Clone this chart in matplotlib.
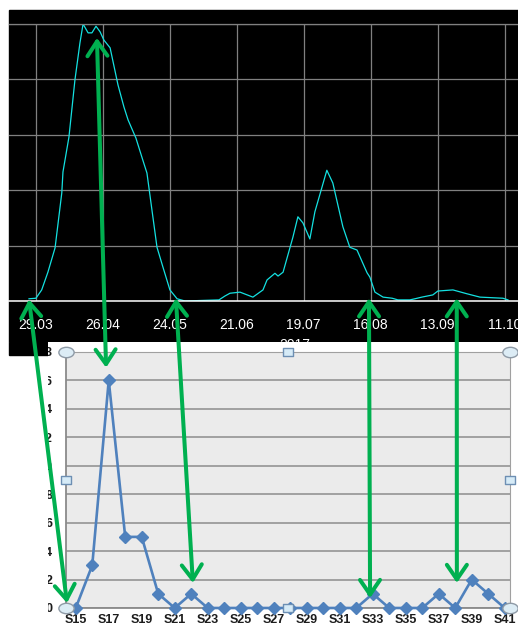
import numpy as np
import matplotlib
matplotlib.use("Agg")
import matplotlib.pyplot as plt
from matplotlib.patches import Rectangle, ConnectionPatch, ArrowStyle
from matplotlib.path import Path
from matplotlib.transforms import Affine2D

# top chart: daily curve, x in days after 29.03.2017
curve_days = [-2.8, 0.1, 2.5, 5.1, 8.1, 10.9, 11.4, 13.9, 16.4, 18.5, 19.8, 21.9, 23.5,
              25.2, 26.9, 28.5, 31.1, 34.4, 36.9, 38.6, 41.9, 44.8, 46.5, 50.7, 53.2,
              56.1, 59.1, 62.4, 76.6, 79.1, 81.2, 85.4, 90.8, 95.0, 96.7, 100.0, 101.3,
              103.4, 107.5, 109.6, 111.7, 114.6, 116.7, 121.7, 124.2, 128.4, 131.3,
              134.3, 138.5, 139.7, 141.8, 145.2, 149.0, 151.4, 156.4, 158.5, 161.4,
              166.0, 168.1, 174.4, 180.3, 185.7, 195.3, 197.4]
curve_vals = [0.04, 0.05, 0.2, 0.52, 0.96, 1.95, 2.33, 2.96, 3.99, 4.66, 5.0, 4.84, 4.84,
              4.96, 4.86, 4.71, 4.57, 3.9, 3.5, 3.27, 2.94, 2.54, 2.31, 0.97, 0.61,
              0.2, 0.04, 0.0, 0.02, 0.09, 0.14, 0.16, 0.07, 0.2, 0.38, 0.5, 0.45,
              0.52, 1.15, 1.52, 1.41, 1.12, 1.61, 2.36, 2.13, 1.34, 0.97,
              0.92, 0.51, 0.43, 0.16, 0.07, 0.05, 0.02, 0.02, 0.04, 0.07,
              0.11, 0.18, 0.2, 0.13, 0.07, 0.05, 0.02]
date_ticks = [0, 28, 56, 84, 112, 140, 168, 196]
date_labels = ["29.03", "26.04", "24.05", "21.06", "19.07", "16.08", "13.09", "11.10"]

# bottom chart: weekly counts
weeks = ["S%d" % w for w in range(15, 42)]
counts = [0, 3, 16, 5, 5, 1, 0, 1, 0, 0, 0, 0, 0, 0, 0, 0, 0, 0, 1, 0, 0, 0, 1, 0, 2, 1, 0]
count_ticks = list(range(0, 19, 2))

# green arrows: (day, value) on top chart  <->  (week index, count) on bottom chart
links = [(-2.8, 0.03, -0.53, 0.35),
         (25.6, 4.75, 1.84, 16.9),
         (58.6, 0.05, 7.1, 1.76),
         (139.3, 0.05, 17.84, 0.7),
         (176.0, 0.05, 23.1, 1.76)]

W, H = 518, 625
fig = plt.figure(figsize=(W / 100, H / 100), dpi=100)
fig.patch.set_facecolor("white")


def box(x0, y0, x1, y1):
    return [x0 / W, 1 - y1 / H, (x1 - x0) / W, (y1 - y0) / H]


fig.add_artist(Rectangle((9 / W, 1 - 355 / H), 509 / W, 345 / H,
                         transform=fig.transFigure, color="black", zorder=-1))

# ---- top chart
ax = fig.add_axes(box(9, 24, 518, 301), zorder=1)
ax.set_facecolor("black")
ax.plot(curve_days, curve_vals, color="#14e1e1", lw=0.9, zorder=2)
ax.set_xlim(-11.16, 201.6)
ax.set_ylim(0, 5)
ax.set_xticks(date_ticks)
ax.set_xticklabels(date_labels, family="Liberation Sans", fontsize=10, color="white")
ax.set_yticks(range(0, 6))
ax.set_yticklabels([])
ax.tick_params(length=0, pad=12)
ax.grid(True, color="#808080", lw=0.9)
for s in ["left", "right"]:
    ax.spines[s].set_visible(False)
ax.spines["top"].set_color("#808080")
ax.spines["top"].set_linewidth(0.9)
ax.spines["bottom"].set_color("white")
ax.spines["bottom"].set_linewidth(1.1)
ax.spines["bottom"].set_zorder(3)
ax.text(0.562, -0.134, "2017", transform=ax.transAxes, ha="center", va="top",
        family="Liberation Sans", fontsize=10, color="white")

# ---- bottom chart (pasted screenshot of a spreadsheet chart)
frame = fig.add_axes(box(48, 342, 518, 625), zorder=2)
frame.set_facecolor("white")
frame.set_xticks([])
frame.set_yticks([])
for s in frame.spines.values():
    s.set_visible(False)

bx = fig.add_axes(box(66, 352, 510, 608), zorder=3)
bx.set_facecolor("#ebebeb")
idx = np.arange(len(weeks))
bx.plot(idx, counts, color="#4f81bd", lw=1.9, marker="D", ms=6.5, zorder=3, clip_on=False)
bx.set_xlim(-0.59, 26.32)
bx.set_ylim(0, 18)
bx.set_xticks(idx[::2])
bx.set_xticklabels(weeks[::2], family="Liberation Sans", fontsize=9, fontweight="bold",
                   color="#1c1c1c")
bx.set_yticks(count_ticks)
bx.set_yticklabels([str(v) for v in count_ticks], family="Liberation Sans", fontsize=9,
                   fontweight="bold", color="#1c1c1c")
bx.tick_params(axis="x", length=0, pad=4)
bx.tick_params(axis="y", length=0, pad=10)
bx.grid(True, axis="y", color="#8c8c8c", lw=1.1)
for s in ["top", "right"]:
    bx.spines[s].set_color("#a0a0a0")
    bx.spines[s].set_linewidth(0.8)
for s in ["left", "bottom"]:
    bx.spines[s].set_color("#8a8a8a")
    bx.spines[s].set_linewidth(1.3)

# selection handles
ell = Path.unit_circle().transformed(Affine2D().scale(1.0, 0.68))
sq = Path.unit_rectangle().transformed(Affine2D().translate(-0.5, -0.5).scale(1.0, 0.85))
bx.plot([0, 1, 0, 1], [0, 0, 1, 1], ls="none", marker=ell, ms=11, mfc="#dcecf5",
        mec="#8e9aa6", mew=1.0, transform=bx.transAxes, clip_on=False, zorder=5)
bx.plot([0.5, 0.5, 0, 1], [0, 1, 0.5, 0.5], ls="none", marker=sq, ms=7.5, mfc="#d6ebf7",
        mec="#6d8fb3", mew=1.0, transform=bx.transAxes, clip_on=False, zorder=5)

# screenshot crop edge cuts the left digits of the y labels
mask = fig.add_axes(box(9, 342, 48, 625), zorder=4)
mask.set_facecolor("white")
mask.set_xlim(0, 1)
mask.set_ylim(0, 1)
mask.axhspan(1 - 13 / 283, 1, color="black")
mask.set_xticks([])
mask.set_yticks([])
for s in mask.spines.values():
    s.set_visible(False)

# ---- green arrows linking the two charts
style = ArrowStyle("<->", head_length=1.05, head_width=0.72)
for d, v, w, c in links:
    con = ConnectionPatch(xyA=(d, v), coordsA=ax.transData, xyB=(w, c), coordsB=bx.transData,
                          arrowstyle=style, mutation_scale=10, color="#00b050", lw=2.9,
                          shrinkA=0, shrinkB=0, zorder=10)
    fig.add_artist(con)

fig.savefig("out.png", dpi=100)
